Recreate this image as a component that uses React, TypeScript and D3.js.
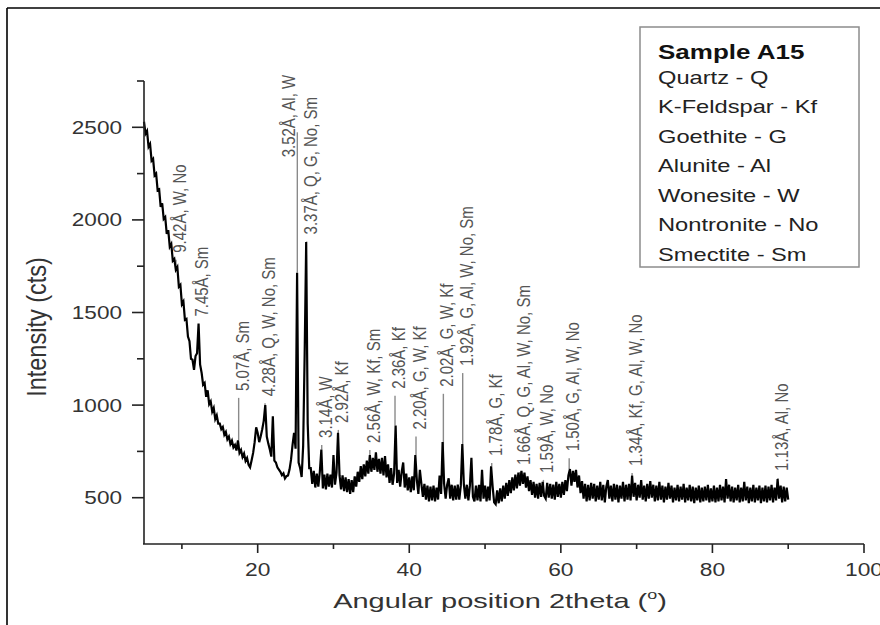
import React from 'react';
import { scaleLinear, line } from 'd3';

// scan: 5..90 deg 2theta, step 0.2 deg (counts)
const scanStart = 5;
const scanStep = 0.2;
const counts = [
  2530, 2465, 2480, 2395, 2410,
  2320, 2330, 2240, 2250, 2160,
  2165, 2070, 2090, 2005, 2015,
  1925, 1945, 1855, 1870, 1780,
  1790, 1730, 1745, 1640, 1650,
  1545, 1560, 1460, 1465, 1370,
  1345, 1250, 1245, 1190, 1265,
  1280, 1440, 1220, 1175, 1110,
  1120, 1045, 1080, 1005, 1020,
  965, 985, 925, 945, 900,
  900, 870, 882, 840, 855,
  815, 830, 790, 808, 772,
  785, 755, 810, 742, 758,
  720, 738, 698, 714, 678,
  664, 702, 742, 800, 880,
  850, 800, 832, 870, 915,
  1000, 830, 792, 760, 722,
  940, 700, 690, 664, 652,
  640, 622, 632, 604, 616,
  620, 652, 705, 785, 850,
  765, 1715, 690, 660, 612,
  780, 1280, 1880, 900, 660,
  660, 575, 645, 555, 630,
  560, 640, 760, 550, 625,
  545, 630, 560, 625, 555,
  730, 570, 635, 850, 620,
  545, 620, 535, 610, 530,
  600, 520, 595, 530, 615,
  560, 640, 585, 670, 600,
  680, 615, 700, 630, 730,
  640, 715, 650, 745, 640,
  710, 630, 715, 620, 725,
  610, 680, 580, 660, 570,
  630, 890, 580, 650, 560,
  640, 690, 555, 630, 540,
  610, 530, 615, 540, 730,
  595, 520, 650, 575, 505,
  575, 490, 565, 480, 560,
  485, 565, 480, 555, 490,
  620, 520, 800, 575, 495,
  570, 605, 495, 570, 485,
  565, 490, 570, 490, 565,
  790, 575, 495, 570, 485,
  565, 715, 505, 480, 565,
  485, 570, 480, 650, 495,
  565, 480, 560, 485, 670,
  560, 475, 465, 540, 470,
  550, 480, 565, 495, 580,
  510, 595, 525, 610, 540,
  625, 550, 635, 565, 645,
  575, 635, 555, 615, 535,
  595, 515, 585, 500, 575,
  495, 580, 505, 585, 510,
  495, 580, 500, 575, 495,
  570, 490, 585, 505, 575,
  500, 585, 515, 595, 535,
  620, 655, 565, 645, 585,
  650, 555, 620, 525, 590,
  495, 575, 480, 570, 485,
  580, 495, 575, 480, 565,
  490, 585, 485, 570, 475,
  560, 595, 495, 565, 480,
  575, 490, 570, 475, 565,
  495, 585, 480, 570, 490,
  575, 485, 620, 505, 580,
  485, 570, 500, 595, 490,
  565, 480, 575, 495, 590,
  500, 570, 480, 565, 485,
  585, 490, 565, 475, 560,
  490, 580, 495, 565, 475,
  555, 485, 570, 480, 560,
  490, 575, 475, 555, 485,
  570, 480, 560, 470, 555,
  485, 565, 475, 555, 480,
  560, 485, 570, 475, 550,
  480, 565, 475, 555, 480,
  570, 485, 560, 475, 600,
  495, 570, 480, 560, 475,
  555, 485, 570, 475, 555,
  480, 585, 485, 560, 470,
  555, 480, 570, 475, 555,
  485, 565, 470, 555, 480,
  565, 475, 560, 485, 570,
  475, 555, 485, 600, 495,
  565, 475, 560, 480, 555,
  490,
];

// labelled reflections
const peakTheta = [9.22, 12.15, 17.49, 20.97, 25.23, 26.47, 28.45, 30.64, 34.8, 38.12, 40.89, 44.5, 47.05, 50.88, 54.6, 57.7, 61.1, 69.4, 88.65];
const peakTop = [1785, 1440, 1039, 1010, 2473, 1884, 785, 866, 758, 1050, 830, 1061, 1173, 688, 639, 596, 713, 634, 607];
const peakLabels = [
  '9.42Å, W, No', '7.45Å, Sm', '5.07Å, Sm', '4.28Å, Q, W, No, Sm', '3.52Å, Al, W',
  '3.37Å, Q, G, No, Sm', '3.14Å, W', '2.92Å, Kf', '2.56Å, W, Kf, Sm', '2.36Å, Kf',
  '2.20Å, G, W, Kf', '2.02Å, G, W, Kf', '1.92Å, G, Al, W, No, Sm', '1.78Å, G, Kf',
  '1.66Å, Q, G, Al, W, No, Sm', '1.59Å, W, No', '1.50Å, G, Al, W, No',
  '1.34Å, Kf, G, Al, W, No', '1.13Å, Al, No',
];

const legendTitle = 'Sample A15';
const legendItems = ['Quartz - Q', 'K-Feldspar - Kf', 'Goethite - G', 'Alunite - Al', 'Wonesite - W', 'Nontronite - No', 'Smectite - Sm'];

const xTicks = [20, 40, 60, 80, 100];
const xMinorTicks = [10, 30, 50, 70, 90];
const yTicks = [500, 1000, 1500, 2000, 2500];
const yMinorTicks = [750, 1250, 1750, 2250, 2750];

const FONT = '"Liberation Sans", Arial, sans-serif';

export default function App() {
  const x = scaleLinear().domain([5, 100]).range([144, 864]);
  const y = scaleLinear().domain([250, 2750]).range([544, 81]);
  const twoTheta = counts.map((_, i) => scanStart + i * scanStep);

  const path = line<number>()
    .x((_, i) => x(twoTheta[i]))
    .y((d) => y(d))(counts) || '';

  return (
    <svg width={880} height={625} style={{ position: 'absolute', left: 0, top: 0, background: '#fff' }} fontFamily={FONT}>
      {/* frame */}
      <line x1={7} y1={8} x2={880} y2={8} stroke="#000" strokeWidth={1.6} />
      <line x1={7} y1={8} x2={7} y2={625} stroke="#000" strokeWidth={1.6} />

      {/* stems */}
      {peakTheta.map((t, i) => {
        const idx = Math.round((t - scanStart) / scanStep);
        return (
          <line key={'s' + i} x1={x(t)} x2={x(t)} y1={y(peakTop[i])} y2={y(counts[idx])}
            stroke="#8a8a8a" strokeWidth={1.4} />
        );
      })}

      {/* trace */}
      <path d={path} fill="none" stroke="#000" strokeWidth={2.2} strokeLinejoin="miter" />

      {/* peak labels */}
      {peakLabels.map((lab, i) => {
        const px = x(peakTheta[i]);
        const py = y(peakTop[i]);
        const left = lab.startsWith('3.52');
        const tx = left ? px - 2 : px + 10;
        const ty = left ? py + 25 : py - 7;
        return (
          <text key={'l' + i} transform={`translate(${tx},${ty}) rotate(-90) scale(1,1.2)`}
            fontSize={15} fill="#555">{lab}</text>
        );
      })}

      {/* axes */}
      <line x1={144} y1={y(2750)} x2={144} y2={544} stroke="#222" strokeWidth={1.6} />
      <line x1={143} y1={544} x2={x(100)} y2={544} stroke="#222" strokeWidth={1.6} />
      {yTicks.map((t) => (
        <g key={'y' + t}>
          <line x1={132} x2={144} y1={y(t)} y2={y(t)} stroke="#222" strokeWidth={1.6} />
          <text transform={`translate(122,${y(t) + 6.5}) scale(1.22,1)`} textAnchor="end" fontSize={18.5} fill="#333">{t}</text>
        </g>
      ))}
      {yMinorTicks.map((t) => (
        <line key={'ym' + t} x1={137} x2={144} y1={y(t)} y2={y(t)} stroke="#222" strokeWidth={1.6} />
      ))}
      {xTicks.map((t) => (
        <g key={'x' + t}>
          <line x1={x(t)} x2={x(t)} y1={544} y2={553} stroke="#222" strokeWidth={1.6} />
          <text transform={`translate(${x(t)},576) scale(1.2,1)`} textAnchor="middle" fontSize={19} fill="#333">{t}</text>
        </g>
      ))}
      {xMinorTicks.map((t) => (
        <line key={'xm' + t} x1={x(t)} x2={x(t)} y1={544} y2={549} stroke="#222" strokeWidth={1.6} />
      ))}

      {/* axis titles */}
      <text transform="translate(46,327) rotate(-90) scale(1,1.15)" textAnchor="middle" fontSize={23.5} fill="#333">
        Intensity (cts)
      </text>
      <text transform="translate(500,608) scale(1.38,1)" textAnchor="middle" fontSize={21} fill="#333">
        Angular position 2theta (<tspan fontSize={13} dy={-9}>o</tspan><tspan dy={9}>)</tspan>
      </text>

      {/* legend */}
      <rect x={640} y={27} width={219} height={240} fill="#fff" stroke="#8c8c8c" strokeWidth={1.5} />
      <text transform="translate(658,59.3) scale(1.3,1)" fontSize={20} fontWeight="bold" fill="#111">{legendTitle}</text>
      {legendItems.map((s, i) => (
        <text key={s} transform={`translate(658,${84 + i * 29.45}) scale(1.28,1)`} fontSize={18.5} fill="#222">{s}</text>
      ))}
    </svg>
  );
}
